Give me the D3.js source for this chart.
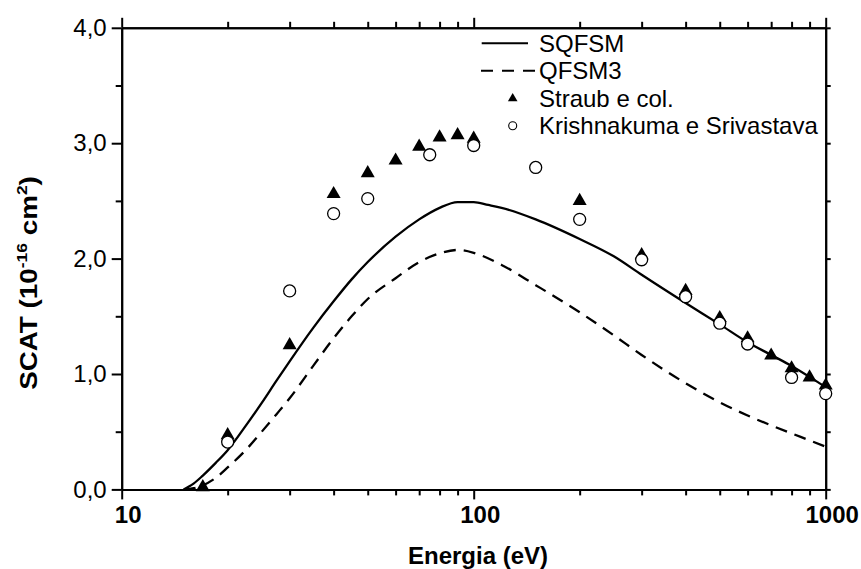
<!DOCTYPE html>
<html>
<head>
<meta charset="utf-8">
<script src="https://cdn.jsdelivr.net/npm/d3@7"></script>
<style>
  body { margin: 0; background: #fff; }
  text { font-family: "Liberation Sans", Arial, sans-serif; fill: #000; }
</style>
</head>
<body>
<svg id="chart" width="861" height="569"></svg>
<script>
// Total cross section (10^-16 cm^2) versus electron energy (eV)
const sqfsmEnergy = [15, 16, 17, 18.5, 20, 22.5, 25, 27.5, 30, 35, 40, 45, 50, 60, 70, 80, 90, 100, 110, 120, 150, 200, 250, 300, 400, 500, 600, 700, 800, 900, 1000];
const sqfsmScat   = [0, 0.05, 0.12, 0.23, 0.34, 0.55, 0.75, 0.94, 1.11, 1.40, 1.63, 1.82, 1.97, 2.19, 2.34, 2.44, 2.49, 2.49, 2.465, 2.44, 2.34, 2.17, 2.02, 1.86, 1.615, 1.43, 1.275, 1.165, 1.07, 0.975, 0.885];

const qfsm3Energy = [15, 16, 17, 18.5, 20, 22.5, 25, 27.5, 30, 35, 40, 45, 50, 60, 70, 80, 90, 100, 120, 150, 200, 250, 300, 400, 500, 600, 700, 800, 900, 1000];
const qfsm3Scat   = [0, 0.01, 0.035, 0.10, 0.19, 0.34, 0.50, 0.65, 0.79, 1.07, 1.31, 1.50, 1.65, 1.83, 1.97, 2.045, 2.075, 2.05, 1.945, 1.77, 1.535, 1.335, 1.165, 0.92, 0.755, 0.64, 0.555, 0.485, 0.425, 0.37];

const straubEnergy = [17, 20, 30, 40, 50, 60, 70, 80, 90, 100, 200, 300, 400, 500, 600, 700, 800, 900, 1000];
const straubScat   = [0.02, 0.47, 1.25, 2.56, 2.74, 2.85, 2.97, 3.05, 3.07, 3.04, 2.50, 2.03, 1.72, 1.485, 1.31, 1.16, 1.05, 0.97, 0.90];

const krishEnergy = [20, 30, 40, 50, 75, 100, 150, 200, 300, 400, 500, 600, 800, 1000];
const krishScat   = [0.41, 1.72, 2.39, 2.52, 2.90, 2.98, 2.79, 2.34, 1.99, 1.67, 1.44, 1.26, 0.97, 0.83];

const xMajorTicks = [10, 100, 1000];
const xMinorTicks = [20, 30, 40, 50, 60, 70, 80, 90, 200, 300, 400, 500, 600, 700, 800, 900];
const yMajorTicks = [0, 1, 2, 3, 4];
const yMinorTicks = [0.5, 1.5, 2.5, 3.5];

const legendItems = [
  { label: "SQFSM", kind: "solid" },
  { label: "QFSM3", kind: "dashed" },
  { label: "Straub e col.", kind: "triangle" },
  { label: "Krishnakuma e Srivastava", kind: "circle" }
];

const svg = d3.select("#chart");
const plotLeft = 121.7, plotRight = 825.7, plotTop = 27.8, plotBottom = 489.4;

const x = d3.scaleLog().domain([10, 1000]).range([plotLeft, plotRight]);
const y = d3.scaleLinear().domain([0, 4]).range([plotBottom, plotTop]);

const commaFmt = d => d3.format(".1f")(d).replace(".", ",");

function styleAxis(g) {
  g.selectAll("path.domain").attr("stroke", "#000").attr("stroke-width", 2);
  g.selectAll(".tick line").attr("stroke", "#000").attr("stroke-width", 2);
}

// Minor ticks first so the frame lines sit on top
const minorGroups = [
  svg.append("g").attr("transform", `translate(0,${plotBottom})`)
     .call(d3.axisBottom(x).tickValues(xMinorTicks).tickSize(6).tickSizeOuter(0).tickFormat("")),
  svg.append("g").attr("transform", `translate(0,${plotTop})`)
     .call(d3.axisTop(x).tickValues(xMinorTicks).tickSize(6).tickSizeOuter(0).tickFormat("")),
  svg.append("g").attr("transform", `translate(${plotLeft},0)`)
     .call(d3.axisLeft(y).tickValues(yMinorTicks).tickSize(6).tickSizeOuter(0).tickFormat("")),
  svg.append("g").attr("transform", `translate(${plotRight},0)`)
     .call(d3.axisRight(y).tickValues(yMinorTicks).tickSize(5).tickSizeOuter(0).tickFormat(""))
];
minorGroups.forEach(styleAxis);

// Bottom axis with labels
const xAxisG = svg.append("g").attr("transform", `translate(0,${plotBottom})`)
  .call(d3.axisBottom(x).tickValues(xMajorTicks).tickSize(10).tickSizeOuter(0).tickPadding(7)
        .tickFormat(d3.format("d")));
styleAxis(xAxisG);
xAxisG.selectAll("text")
  .attr("font-size", 24).attr("font-weight", "bold")
  .attr("font-family", "'Liberation Sans', Arial, sans-serif")
  .attr("dx", 6).attr("fill", "#000");

// Top axis (mirror, no labels)
const xTopG = svg.append("g").attr("transform", `translate(0,${plotTop})`)
  .call(d3.axisTop(x).tickValues(xMajorTicks).tickSize(10).tickSizeOuter(0).tickFormat(""));
styleAxis(xTopG);

// Left axis with labels
const yAxisG = svg.append("g").attr("transform", `translate(${plotLeft},0)`)
  .call(d3.axisLeft(y).tickValues(yMajorTicks).tickSize(10).tickSizeOuter(0).tickPadding(5)
        .tickFormat(commaFmt));
styleAxis(yAxisG);
yAxisG.selectAll("text")
  .attr("font-size", 24)
  .attr("font-family", "'Liberation Sans', Arial, sans-serif")
  .attr("fill", "#000");

// Right axis (mirror, no labels)
const yRightG = svg.append("g").attr("transform", `translate(${plotRight},0)`)
  .call(d3.axisRight(y).tickValues(yMajorTicks).tickSize(5).tickSizeOuter(0).tickFormat(""));
styleAxis(yRightG);

// Axis titles
svg.append("text")
  .attr("x", 478).attr("y", 564)
  .attr("text-anchor", "middle")
  .attr("font-size", 24).attr("font-weight", "bold")
  .text("Energia (eV)");

const yTitle = svg.append("text")
  .attr("transform", "translate(37,283) rotate(-90) scale(1.16,1)")
  .attr("text-anchor", "middle")
  .attr("font-size", 24).attr("font-weight", "bold");
yTitle.append("tspan").text("SCAT (10");
yTitle.append("tspan").attr("font-size", 15).attr("dy", -10).text("-16");
yTitle.append("tspan").attr("dy", 10).text(" cm");
yTitle.append("tspan").attr("font-size", 15).attr("dy", -10).text("2");
yTitle.append("tspan").attr("dy", 10).text(")");

// Model curves
const line = d3.line()
  .x(d => x(d[0]))
  .y(d => y(d[1]))
  .curve(d3.curveMonotoneX);

svg.append("path")
  .datum(d3.zip(sqfsmEnergy, sqfsmScat))
  .attr("d", line)
  .attr("fill", "none").attr("stroke", "#000").attr("stroke-width", 2.3);

svg.append("path")
  .datum(d3.zip(qfsm3Energy, qfsm3Scat))
  .attr("d", line)
  .attr("fill", "none").attr("stroke", "#000").attr("stroke-width", 2.3)
  .attr("stroke-dasharray", "12,8");

// Experimental points
const tri = d3.symbol().type(d3.symbolTriangle).size(85);
svg.append("g").selectAll("path")
  .data(d3.zip(straubEnergy, straubScat))
  .join("path")
  .attr("transform", d => `translate(${x(d[0])},${y(d[1])})`)
  .attr("d", tri)
  .attr("fill", "#000");

svg.append("g").selectAll("circle")
  .data(d3.zip(krishEnergy, krishScat))
  .join("circle")
  .attr("cx", d => x(d[0])).attr("cy", d => y(d[1]))
  .attr("r", 6)
  .attr("fill", "#fff").attr("stroke", "#000").attr("stroke-width", 1.3);

// Legend
const legend = svg.append("g");
const rowY = [43.3, 70.7, 98.5, 125.7];
legendItems.forEach((item, i) => {
  const yy = rowY[i];
  if (item.kind === "solid") {
    legend.append("line").attr("x1", 481.7).attr("x2", 528).attr("y1", yy).attr("y2", yy)
      .attr("stroke", "#000").attr("stroke-width", 2);
  } else if (item.kind === "dashed") {
    legend.append("line").attr("x1", 481).attr("x2", 535).attr("y1", yy).attr("y2", yy)
      .attr("stroke", "#000").attr("stroke-width", 2).attr("stroke-dasharray", "12,9");
  } else if (item.kind === "triangle") {
    legend.append("path").attr("transform", `translate(512.7,${yy})`)
      .attr("d", d3.symbol().type(d3.symbolTriangle).size(40)).attr("fill", "#000");
  } else {
    legend.append("circle").attr("cx", 512.7).attr("cy", yy).attr("r", 4)
      .attr("fill", "#fff").attr("stroke", "#000").attr("stroke-width", 1.1);
  }
  legend.append("text")
    .attr("x", 539).attr("y", yy + 8.5)
    .attr("font-size", 24)
    .text(item.label);
});
</script>
</body>
</html>
